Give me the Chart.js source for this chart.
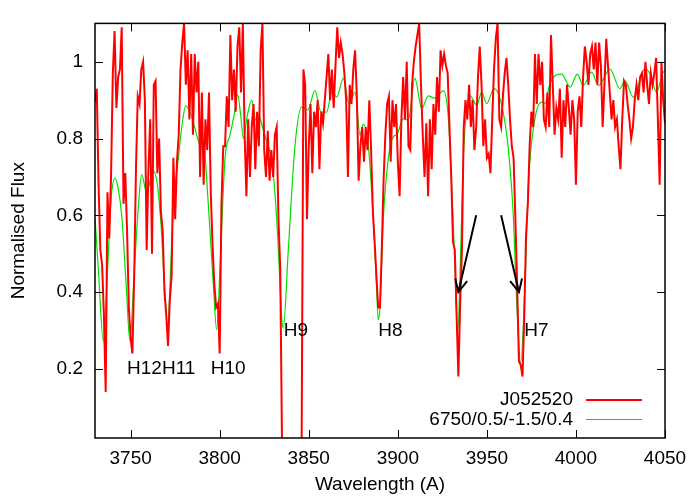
<!DOCTYPE html>
<html>
<head>
<meta charset="utf-8">
<script src="https://cdn.jsdelivr.net/npm/chart.js@4"></script>
<style>
  html, body { margin: 0; padding: 0; background: #fff; }
  #wrap { width: 700px; height: 500px; }
</style>
</head>
<body>
<div id="wrap"><canvas id="myChart" width="700" height="500"></canvas></div>
<script>
// observed spectrum, sampled every 1 A from 3730 A
const redStart = 3730;
const redFlux = [
  0.895, 0.93, 0.68, 0.51, 0.47, 0.34, 0.14, 0.66, 0.54, 0.70,
  0.97, 1.08, 0.88, 0.96, 0.98, 1.09, 0.63, 0.71, 0.56, 0.36,
  0.28, 0.24, 0.44, 0.72, 0.91, 0.89, 0.98, 1.0, 0.9, 0.51,
  0.72, 0.85, 0.5, 0.94, 0.95, 0.71, 0.8, 0.61, 0.56, 0.40,
  0.34, 0.26, 0.38, 0.44, 0.75, 0.59, 0.74, 0.81, 0.98, 1.05,
  1.1, 0.94, 1.03, 0.85, 1.02, 0.81, 1.02, 0.92, 1.0, 0.70,
  0.92, 0.68, 0.85, 0.77, 0.92, 0.66, 0.52, 0.42, 0.36, 0.37,
  0.24, 0.63, 0.78, 0.78, 0.91, 0.83, 1.07, 0.9, 0.98, 0.87,
  1.04, 1.09, 0.92, 1.1, 0.81, 0.65, 0.85, 0.70, 0.83, 0.89,
  0.72, 0.87, 0.78, 1.03, 1.1, 0.77, 0.70, 0.82, 0.69, 0.77,
  0.70, 0.81, 0.83, 0.59, 0.46, 0, 0, 0, 0, 0,
  0, 0, 0, 0, 0, 0, 0, 0.98, 0.94, 0.59,
  0.78, 0.89, 0.71, 0.87, 0.83, 0.9, 0.72, 0.87, 0.84, 0.9,
  0.96, 1.02, 0.9, 0.98, 0.88, 0.99, 1.09, 1.01, 1.05, 1.02,
  0.97, 0.9, 0.70, 0.94, 0.89, 0.98, 1.03, 0.91, 0.69, 0.78,
  0.83, 0.74, 0.83, 0.77, 0.9, 0.77, 0.61, 0.53, 0.44, 0.36,
  0.36, 0.51, 0.69, 0.81, 0.89, 0.91, 0.74, 0.9, 0.83, 0.89,
  0.74, 0.65, 0.85, 0.96, 0.85, 1.0, 0.78, 0.77, 0.94, 1.0,
  1.04, 1.07, 1.1, 0.94, 0.81, 0.70, 0.84, 0.65, 0.85, 0.72,
  0.89, 0.81, 0.96, 0.87, 1.03, 0.99, 1.02, 0.99, 0.97, 0.83,
  0.70, 0.53, 0.51, 0.34, 0.18, 0.37, 0.51, 0.83, 0.9, 0.85,
  0.94, 0.83, 0.9, 0.77, 0.83, 0.96, 1.04, 0.94, 0.78, 0.85,
  0.75, 0.76, 0.71, 0.85, 0.98, 1.06, 1.1, 0.85, 0.83, 0.91,
  0.97, 1.01, 0.94, 0.85, 0.78, 0.75, 0.59, 0.42, 0.22, 0.21,
  0.18, 0.34, 0.55, 0.63, 0.78, 0.87, 0.83, 1.02, 0.89, 1.02,
  0.94, 1.0, 0.85, 0.83, 0.92, 0.83, 1.07, 0.94, 0.81, 0.88,
  0.85, 0.93, 0.75, 0.9, 0.83, 0.94, 0.88, 0.81, 0.9, 0.85,
  0.68, 0.87, 0.91, 0.83, 0.96, 1.04, 1.0, 0.94, 1.02, 1.04,
  0.98, 1.05, 0.94, 1.05, 0.99, 0.83, 0.94, 1.06, 0.99, 0.92,
  0.85, 0.9, 0.83, 0.85, 0.78, 0.72, 0.85, 0.95, 0.94, 0.89,
  0.85, 0.8, 0.83, 0.9, 0.94, 0.9, 0.96, 0.97, 0.92, 1.0,
  0.94, 0.89, 0.97, 0.94, 0.97, 1.01, 0.85, 0.68, 1.0, 0.9, 0.84
];

// model spectrum
const greenWave = [
  3730, 3732, 3734.7, 3737, 3739, 3741.2, 3743, 3745, 3747.5, 3749.6,
  3752, 3754, 3756.2, 3759, 3762.7, 3765, 3767, 3769, 3770.8, 3773,
  3774.5, 3776.8, 3779, 3780.9, 3784, 3786.5, 3788.9, 3790.8, 3793.5, 3796.4,
  3798.3, 3800.5, 3803, 3805.8, 3808, 3810.1, 3811.8, 3813.3, 3815.5, 3818,
  3820.2, 3822, 3824, 3826.4, 3828.5, 3830, 3832.5, 3834.8, 3835.7, 3838.5,
  3842.3, 3846, 3849.4, 3853.5, 3856.9, 3860, 3863.2, 3865.7, 3869.4, 3872.6,
  3876, 3878.8, 3880.6, 3883.4, 3886.2, 3888, 3889, 3890, 3891.9, 3894.7,
  3897.5, 3899.4, 3903.1, 3905.9, 3909.6, 3913.4, 3917.1, 3920.9, 3925.6, 3928.4,
  3930.2, 3932.1, 3933.6, 3935.3, 3936.8, 3940.5, 3944.3, 3947.1, 3949.9, 3954,
  3958.3, 3962, 3964.9, 3966.7, 3969, 3971.4, 3973.3, 3977, 3980.8, 3982.6,
  3985.4, 3992, 3996.7, 4000.8, 4004.1, 4008.8, 4012.6, 4019.1, 4024.7, 4027.5,
  4032.2, 4038.8, 4041.6, 4045.3, 4049, 4050
];
const greenFlux = [
  0.594, 0.45, 0.272, 0.45, 0.64, 0.697, 0.67, 0.6, 0.42, 0.272,
  0.45, 0.6, 0.706, 0.659, 0.717, 0.68, 0.58, 0.42, 0.315, 0.52,
  0.65, 0.749, 0.84, 0.885, 0.861, 0.82, 0.785, 0.79, 0.637, 0.422,
  0.302, 0.5, 0.749, 0.809, 0.86, 0.914, 0.86, 0.8, 0.86, 0.9,
  0.848, 0.861, 0.83, 0.792, 0.76, 0.715, 0.551, 0.336, 0.306, 0.508,
  0.783, 0.882, 0.874, 0.925, 0.869, 0.869, 0.923, 0.908, 0.957, 0.891,
  0.921, 0.809, 0.837, 0.783, 0.594, 0.422, 0.328, 0.362, 0.594, 0.749,
  0.805, 0.81, 0.852, 0.848, 0.957, 0.878, 0.911, 0.905, 0.925, 0.852,
  0.68, 0.465, 0.293, 0.508, 0.749, 0.912, 0.887, 0.921, 0.891, 0.93,
  0.887, 0.775, 0.594, 0.379, 0.216, 0.422, 0.68, 0.852, 0.895, 0.891,
  0.943, 0.968, 0.934, 0.968, 0.938, 0.973, 0.938, 0.981, 0.93, 0.951,
  0.908, 0.983, 0.968, 0.921, 0.973, 0.975
];

const xTicks = [3750, 3800, 3850, 3900, 3950, 4000, 4050];
const yTicks = [0.2, 0.4, 0.6, 0.8, 1];

const lineNames = ["H12H11", "H10", "H9", "H8", "H7"];
const lineNameX = [3748, 3795, 3836, 3889, 3971];
const lineNameY = [0.2, 0.2, 0.3, 0.3, 0.3];

// arrows: from (x0,y0) to (x1,y1)
const arrowX0 = [3944, 3958];
const arrowY0 = [0.6, 0.6];
const arrowX1 = [3934, 3968];
const arrowY1 = [0.4, 0.4];

const FONT = "'Liberation Sans', Arial, sans-serif";

const redPoints = redFlux.map((v, i) => ({x: redStart + i, y: v}));
const greenPoints = greenWave.map((w, i) => ({x: w, y: greenFlux[i]}));

const gnuplotLook = {
  id: "gnuplotLook",
  afterDatasetsDraw(chart) {
    const {ctx, chartArea: a, scales} = chart;
    ctx.save();
    // inward ticks on all four sides
    ctx.strokeStyle = "#000";
    ctx.lineWidth = 1;
    ctx.beginPath();
    xTicks.forEach((t) => {
      const px = Math.round(scales.x.getPixelForValue(t)) + 0.5;
      ctx.moveTo(px, a.bottom); ctx.lineTo(px, a.bottom - 8);
      ctx.moveTo(px, a.top); ctx.lineTo(px, a.top + 8);
    });
    yTicks.forEach((t) => {
      const py = Math.round(scales.y.getPixelForValue(t)) + 0.5;
      ctx.moveTo(a.left, py); ctx.lineTo(a.left + 8, py);
      ctx.moveTo(a.right, py); ctx.lineTo(a.right - 8, py);
    });
    ctx.stroke();
    ctx.lineWidth = 1.5;
    ctx.strokeRect(a.left, a.top, a.right - a.left, a.bottom - a.top);

    // line labels
    ctx.fillStyle = "#000";
    ctx.font = "19px " + FONT;
    ctx.textAlign = "left";
    ctx.textBaseline = "middle";
    lineNames.forEach((n, i) => {
      ctx.fillText(n, scales.x.getPixelForValue(lineNameX[i]), scales.y.getPixelForValue(lineNameY[i]));
    });

    // arrows
    ctx.lineWidth = 2;
    arrowX0.forEach((x0, i) => {
      const sx = scales.x.getPixelForValue(x0), sy = scales.y.getPixelForValue(arrowY0[i]);
      const ex = scales.x.getPixelForValue(arrowX1[i]), ey = scales.y.getPixelForValue(arrowY1[i]);
      const ang = Math.atan2(ey - sy, ex - sx);
      const hl = 14, hw = 0.45;
      ctx.beginPath();
      ctx.moveTo(sx, sy); ctx.lineTo(ex, ey);
      ctx.moveTo(ex - hl * Math.cos(ang - hw), ey - hl * Math.sin(ang - hw));
      ctx.lineTo(ex, ey);
      ctx.lineTo(ex - hl * Math.cos(ang + hw), ey - hl * Math.sin(ang + hw));
      ctx.stroke();
    });

    // key, text right aligned then sample line
    ctx.textAlign = "right";
    chart.data.datasets.forEach((ds, i) => {
      const y = 400 + i * 19.5;
      ctx.fillStyle = "#000";
      ctx.fillText(ds.label, 573, y);
      ctx.strokeStyle = ds.borderColor;
      ctx.lineWidth = ds.borderWidth;
      ctx.beginPath();
      ctx.moveTo(586, y); ctx.lineTo(642, y);
      ctx.stroke();
    });
    ctx.restore();
  },
};

new Chart(document.getElementById("myChart"), {
  type: "line",
  data: {
    datasets: [
      {
        label: "J052520",
        data: redPoints,
        borderColor: "#ff0000",
        borderWidth: 2,
        pointRadius: 0,
        tension: 0,
      },
      {
        label: "6750/0.5/-1.5/0.4",
        data: greenPoints,
        borderColor: "#00e000",
        borderWidth: 1.2,
        pointRadius: 0,
        cubicInterpolationMode: "monotone",
      },
    ],
  },
  options: {
    responsive: false,
    animation: false,
    events: [],
    layout: {padding: {top: 19, right: 35, left: 0, bottom: 0}},
    plugins: {legend: {display: false}, tooltip: {enabled: false}},
    scales: {
      x: {
        type: "linear",
        min: 3730,
        max: 4050,
        grid: {display: false, drawTicks: false},
        border: {display: false},
        afterFit: (s) => { s.height = 62; },
        afterBuildTicks: (s) => { s.ticks = xTicks.map((v) => ({value: v})); },
        ticks: {
          color: "#000", padding: 9, maxRotation: 0, autoSkip: false,
          font: {family: FONT, size: 19},
          callback: (v) => String(v),
        },
        title: {display: true, text: "Wavelength (A)", color: "#000", padding: {top: 0, bottom: 4}, font: {family: FONT, size: 19}},
      },
      y: {
        min: 0.02,
        max: 1.1,
        grid: {display: false, drawTicks: false},
        border: {display: false},
        afterFit: (s) => { s.width = 95; },
        afterBuildTicks: (s) => { s.ticks = yTicks.map((v) => ({value: v})); },
        ticks: {
          color: "#000", padding: 12, autoSkip: false,
          font: {family: FONT, size: 19},
          callback: (v) => String(Math.round(v * 10) / 10),
        },
        title: {display: true, text: "Normalised Flux", color: "#000", padding: {top: 7, bottom: 0}, font: {family: FONT, size: 19}},
      },
    },
  },
  plugins: [gnuplotLook],
});
</script>
</body>
</html>
